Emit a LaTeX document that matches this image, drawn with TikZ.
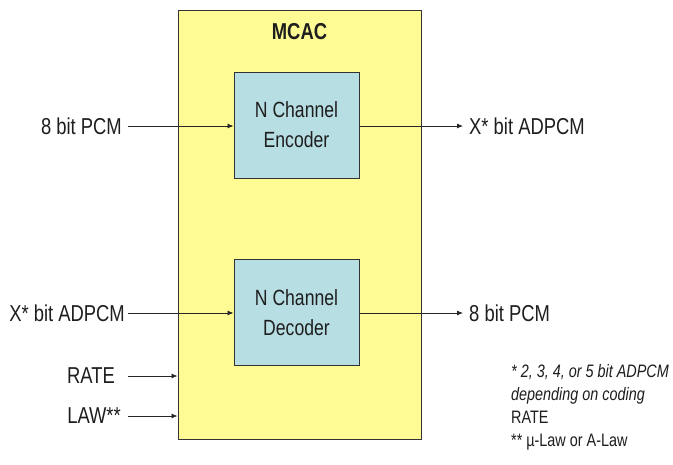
\documentclass[tikz,border=0pt]{standalone}
\usepackage{fontspec}
\setmainfont{Liberation Sans}[FakeStretch=0.8]
\usetikzlibrary{arrows.meta}
\definecolor{mcacyellow}{HTML}{FFFB94}
\definecolor{chanblue}{HTML}{B7DEE3}
\definecolor{txt}{HTML}{1E1E1E}
\begin{document}
\begin{tikzpicture}[x=1pt,y=-1pt,
  lbl/.style={font=\fontsize{23}{27}\selectfont, text=txt, inner sep=0pt},
  chanbox/.style={draw=black!80, line width=1pt, fill=chanblue, minimum width=125pt, minimum height=106pt, align=center, font=\fontsize{22}{30}\selectfont, text=txt},
  sig/.style={-{Latex[length=6pt,width=5pt]}, line width=0.8pt, draw=black!85},
  note/.style={font=\fontsize{18}{23}\selectfont, text=txt, inner sep=0pt, align=left}]
\useasboundingbox (0,0) rectangle (673,464);
\fill[white] (0,0) rectangle (673,464);
% MCAC box
\node[draw=black!80, line width=1pt, fill=mcacyellow, minimum width=243pt, minimum height=429pt, inner sep=0pt] (mcac) at (299.5,224.5) {};
\node[font=\bfseries\fontsize{23}{27}\selectfont, text=txt] (title) at (299.5,32) {MCAC};
\node[chanbox] (enc) at (296.5,125) {N Channel\\Encoder};
\node[chanbox] (dec) at (296.5,312.5) {N Channel\\Decoder};
% labels
\node[lbl, anchor=east] (in1) at (122,126) {8 bit PCM};
\node[lbl, anchor=west] (out1) at (469,126) {X* bit ADPCM};
\node[lbl, anchor=east] (in2) at (125,313) {X* bit ADPCM};
\node[lbl, anchor=west] (out2) at (469,313) {8 bit PCM};
\node[lbl, anchor=east] (rate) at (115,376) {RATE};
\node[lbl, anchor=east] (law) at (121,416) {LAW**};
% connectors
\draw[sig] (in1.east)+(6,0) coordinate (a1) -- (a1 -| enc.west);
\draw[sig] (enc.east |- out1.west) -- ([xshift=-6pt]out1.west);
\draw[sig] (in2.east)+(3,0) coordinate (a2) -- (a2 -| dec.west);
\draw[sig] (dec.east |- out2.west) -- ([xshift=-6pt]out2.west);
\coordinate (r0) at (128,376);
\coordinate (l0) at (128,416);
\draw[sig] (r0) -- (r0 -| mcac.west);
\draw[sig] (l0) -- (l0 -| mcac.west);
% footnote
\node[note, anchor=north west] (fn) at (511,364) {\itshape * 2, 3, 4, or 5 bit ADPCM\\\itshape depending on coding\\RATE\\** µ-Law or A-Law};
\end{tikzpicture}
\end{document}
